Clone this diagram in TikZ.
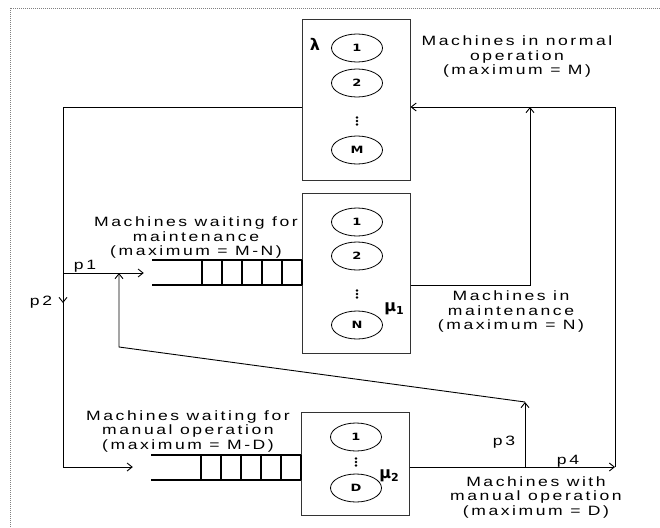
\documentclass[tikz,border=0pt]{standalone}
\usepackage{fontspec}
\usetikzlibrary{arrows.meta,shapes.geometric}
\newfontfamily\lab[LetterSpace=19, FakeStretch=1.3]{Liberation Sans}
\newfontfamily\cirf[FakeStretch=1.3]{DejaVu Sans}
\newfontfamily\sym{DejaVu Sans}
\begin{document}
\begin{tikzpicture}[x=1pt,y=-1pt,
  line/.style={draw=black, line width=0.9pt},
  arr/.style={line, -{Straight Barb[length=5pt,width=8pt]}},
  box/.style={draw=black!80, line width=1pt, minimum width=108pt, inner sep=0pt},
  srv/.style={ellipse, draw, line width=0.8pt, minimum width=51pt, minimum height=28pt, inner sep=0pt, font=\cirf\bfseries\fontsize{10}{10}\selectfont},
  txt/.style={align=center, font=\lab\fontsize{13.5}{14.5}\selectfont, inner sep=0pt},
  plab/.style={font=\lab\fontsize{13.5}{14.5}\selectfont, inner sep=0pt},
  greek/.style={font=\sym\bfseries\fontsize{16}{16}\selectfont, inner sep=0pt},
  qline/.style={line width=1.3pt},
  anchorbox/.style={minimum width=150pt, minimum height=25pt, inner sep=0pt},
]
\useasboundingbox (0,0) rectangle (660,527);
\draw[gray, dash pattern=on 1pt off 1pt, line width=0.7pt] (10,8) rectangle (672,540);

% boxes
\node[box, minimum height=160pt] (b1) at (356,100) {};
\node[box, minimum height=160pt] (b2) at (356,273) {};
\node[box, minimum height=103pt] (b3) at (355,463.5) {};

% servers
\node[srv] (s11) at (357,48) {1};
\node[srv] (s12) at (357,83) {2};
\node[srv] (s1m) at (357,150) {M};
\foreach \d in {-3.5,0,3.5} \fill (357,121+\d) circle (1.3);
\node[srv] (s21) at (357,222) {1};
\node[srv] (s22) at (357,256) {2};
\node[srv] (s2n) at (357,325) {N};
\foreach \d in {-3.5,0,3.5} \fill (357,294+\d) circle (1.3);
\node[srv] (s31) at (356,437) {1};
\node[srv] (s3d) at (356,488) {D};
\foreach \d in {-3.5,0,3.5} \fill (356,462+\d) circle (1.3);

\node[greek] (lam) at (315,44) {λ};
\node[greek] (mu1) at (394,309) {μ\raisebox{-3pt}{\fontsize{11}{11}\selectfont 1}};
\node[greek] (mu2) at (389,476) {μ\raisebox{-3pt}{\fontsize{11}{11}\selectfont 2}};

% queues
\node[anchorbox] (q1) at (227,273) {};
\draw[qline] (152,260) -- (302,260) (152,285) -- (302,285);
\foreach \x in {202,222,...,302} \draw[qline] (\x,260) -- (\x,285);
\node[anchorbox] (q2) at (226,467) {};
\draw[qline] (151,455) -- (301,455) (151,480) -- (301,480);
\foreach \x in {201,221,...,301} \draw[qline] (\x,455) -- (\x,480);

% bend points
\coordinate (c1) at (63,107);
\coordinate (c3) at (63,273);
\coordinate (c12) at (63,303);
\coordinate (c4) at (119,347);
\coordinate (c6) at (525,402);
\coordinate (c7) at (525,467);
\coordinate (c8) at (615,467);
\coordinate (c9) at (615,107);
\coordinate (c10) at (530,285);
\coordinate (c11) at (530,107);

% connectors
\draw[arr, shorten >=18pt] (b1.west |- c1) -- (c1) |- (q2.west);
\draw[arr] (c3) -- (c12);
\draw[arr, shorten >=8pt] (c3) -- (q1.west);
\draw[arr] (c6) -- (c4) -- (c4 |- c3);
\draw[arr] (c7) -- (c6);
\draw[arr] (b3.east |- c7) -- (c8);
\draw[line] (c8) -- (c9);
\draw[arr] (c9) -- (b1.east |- c9);
\draw[arr] (b2.east |- c10) -- (c10) -- (c11);

% texts
\node[txt] (t1) at (517,57) {Machines in normal\\operation\\(maximum = M)};
\node[txt] (t2) at (196,238) {Machines waiting for\\maintenance\\(maximum = M-N)};
\node[txt] (t3) at (511,312) {Machines in\\maintenance\\(maximum = N)};
\node[txt] (t4) at (188,431) {Machines waiting for\\manual operation\\(maximum = M-D)};
\node[txt] (t5) at (536,497) {Machines with\\manual operation\\(maximum = D)};

\node[plab] (p1) at (85,266) {p1};
\node[plab] (p2) at (41,302) {p2};
\node[plab] (p3) at (504,442) {p3};
\node[plab] (p4) at (568,461) {p4};
\end{tikzpicture}
\end{document}
